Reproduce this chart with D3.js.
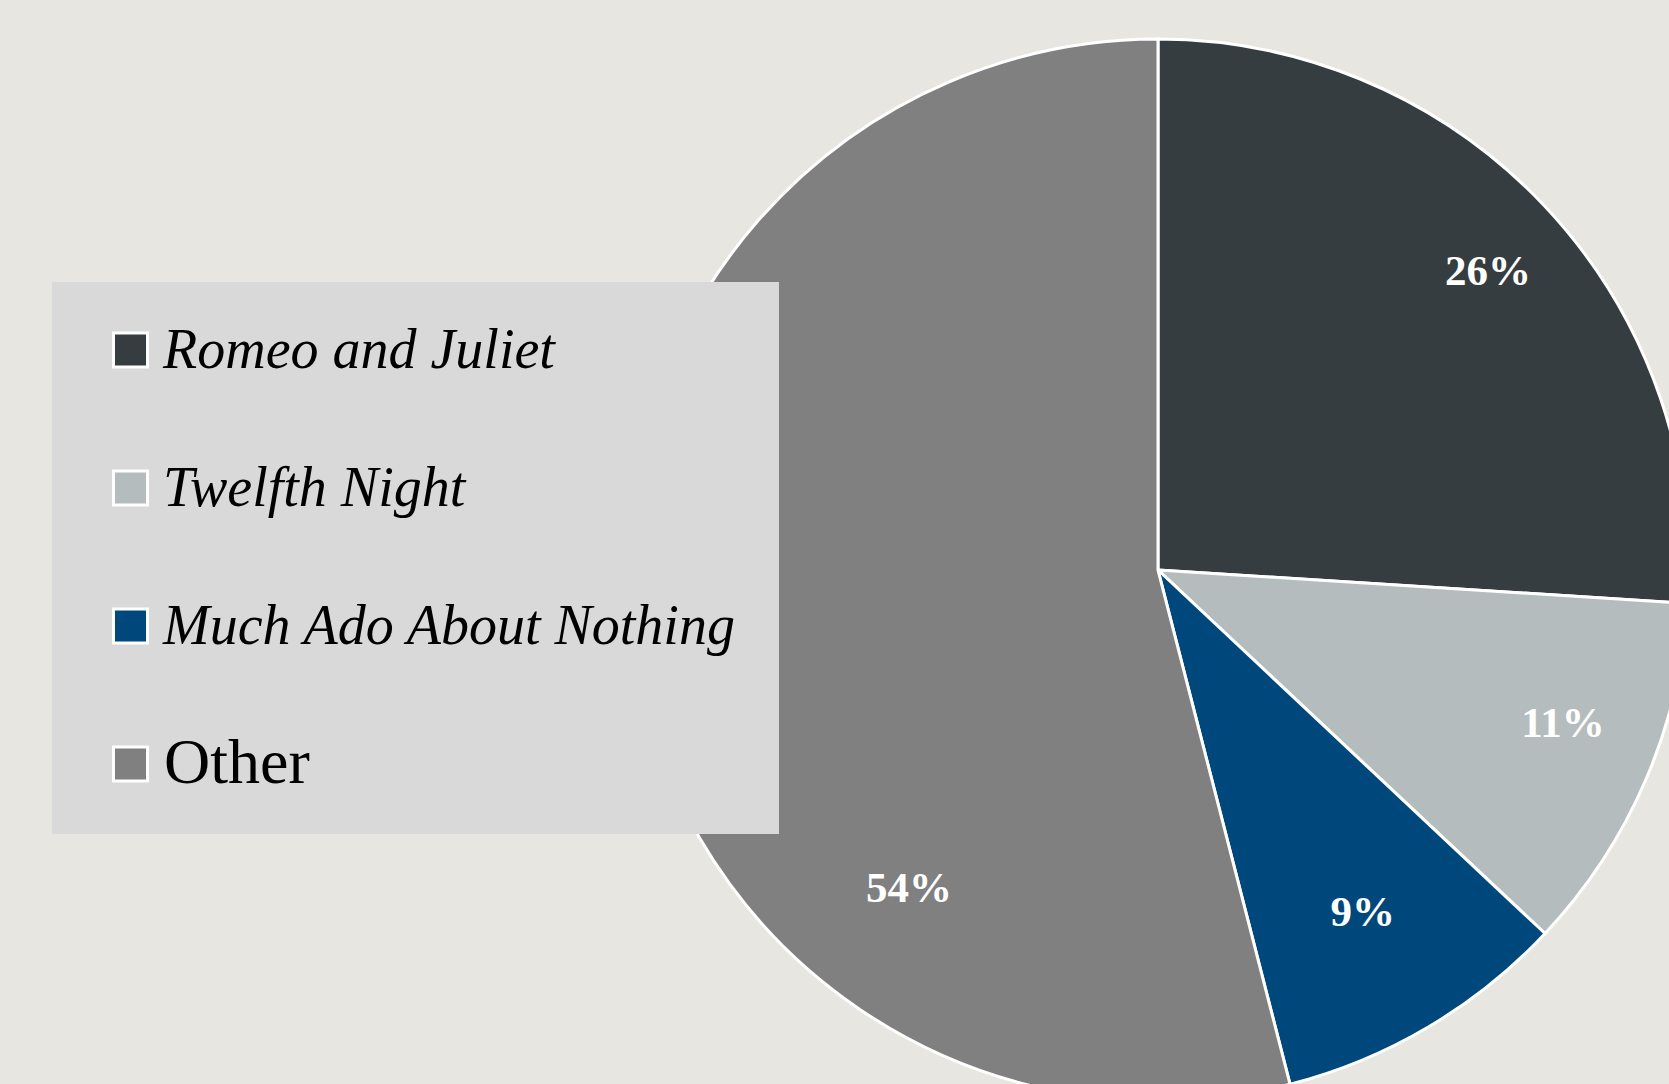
<!DOCTYPE html>
<html>
<head>
<meta charset="utf-8">
<script src="https://cdn.jsdelivr.net/npm/d3@7"></script>
<style>
  html, body { margin: 0; padding: 0; background: #e8e6e0; overflow: hidden; }
  svg { display: block; }
</style>
</head>
<body>
<svg id="chart" width="1669" height="1084"></svg>
<script>
// ---- data ----
const categories = ["Romeo and Juliet", "Twelfth Night", "Much Ado About Nothing", "Other"];
const shares = [26, 11, 9, 54];
const italicFlags = [true, true, true, false];
const colors = ["#363d40", "#b5bcbe", "#00487c", "#808080"];

// ---- layout ----
const W = 1669, H = 1084;
const cx = 1158, cy = 570, R = 531;
// where along each slice (fraction of its sweep) and how far out (fraction of R) its label sits
const labelAngleFrac = [0.51, 0.43, 0.49, 0.27];
const labelRadiusFrac = [0.84, 0.815, 0.75, 0.76];

const svg = d3.select("#chart");
svg.append("rect").attr("width", W).attr("height", H).attr("fill", "#e8e6e0");

const pie = d3.pie().sort(null).value(d => d).startAngle(0).endAngle(2 * Math.PI);
const arcs = pie(shares);
const arc = d3.arc().innerRadius(0).outerRadius(R);

const g = svg.append("g").attr("transform", `translate(${cx},${cy})`);
g.selectAll("path.slice")
  .data(arcs)
  .join("path")
  .attr("class", "slice")
  .attr("d", arc)
  .attr("fill", (d, i) => colors[i])
  .attr("stroke", "#ffffff")
  .attr("stroke-width", 3)
  .attr("stroke-linejoin", "miter");

g.selectAll("text.pct")
  .data(arcs)
  .join("text")
  .attr("class", "pct")
  .attr("transform", (d, i) => {
    const a = d.startAngle + labelAngleFrac[i] * (d.endAngle - d.startAngle);
    const r = labelRadiusFrac[i] * R;
    const la = d3.arc().innerRadius(r).outerRadius(r).startAngle(a).endAngle(a);
    const [x, y] = la.centroid();
    return `translate(${x},${y})`;
  })
  .attr("text-anchor", "middle")
  .attr("dominant-baseline", "central")
  .attr("fill", "#ffffff")
  .attr("font-family", "'Liberation Serif', 'DejaVu Serif', serif")
  .attr("font-weight", "bold")
  .attr("font-size", 43)
  .text(d => d3.format(".0%")(d.value / d3.sum(shares)));

// ---- legend ----
const legend = svg.append("g");
legend.append("rect")
  .attr("x", 52).attr("y", 282)
  .attr("width", 727).attr("height", 552)
  .attr("fill", "#d9d9d9");

const rowY = d3.scalePoint().domain(categories).range([350, 764]);

const items = legend.selectAll("g.item")
  .data(categories)
  .join("g")
  .attr("class", "item")
  .attr("transform", d => `translate(0,${rowY(d)})`);

items.append("rect")
  .attr("x", 113.5).attr("y", -17)
  .attr("width", 34).attr("height", 34)
  .attr("fill", (d, i) => colors[i])
  .attr("stroke", "#ffffff")
  .attr("stroke-width", 3);

items.append("text")
  .attr("x", (d, i) => italicFlags[i] ? 163 : 164)
  .attr("y", (d, i) => italicFlags[i] ? 18 : 19)
  .attr("fill", "#000000")
  .attr("font-family", "'Liberation Serif', 'DejaVu Serif', serif")
  .attr("font-style", (d, i) => italicFlags[i] ? "italic" : "normal")
  .attr("font-size", (d, i) => italicFlags[i] ? 56 : 64)
  .text(d => d);
</script>
</body>
</html>
